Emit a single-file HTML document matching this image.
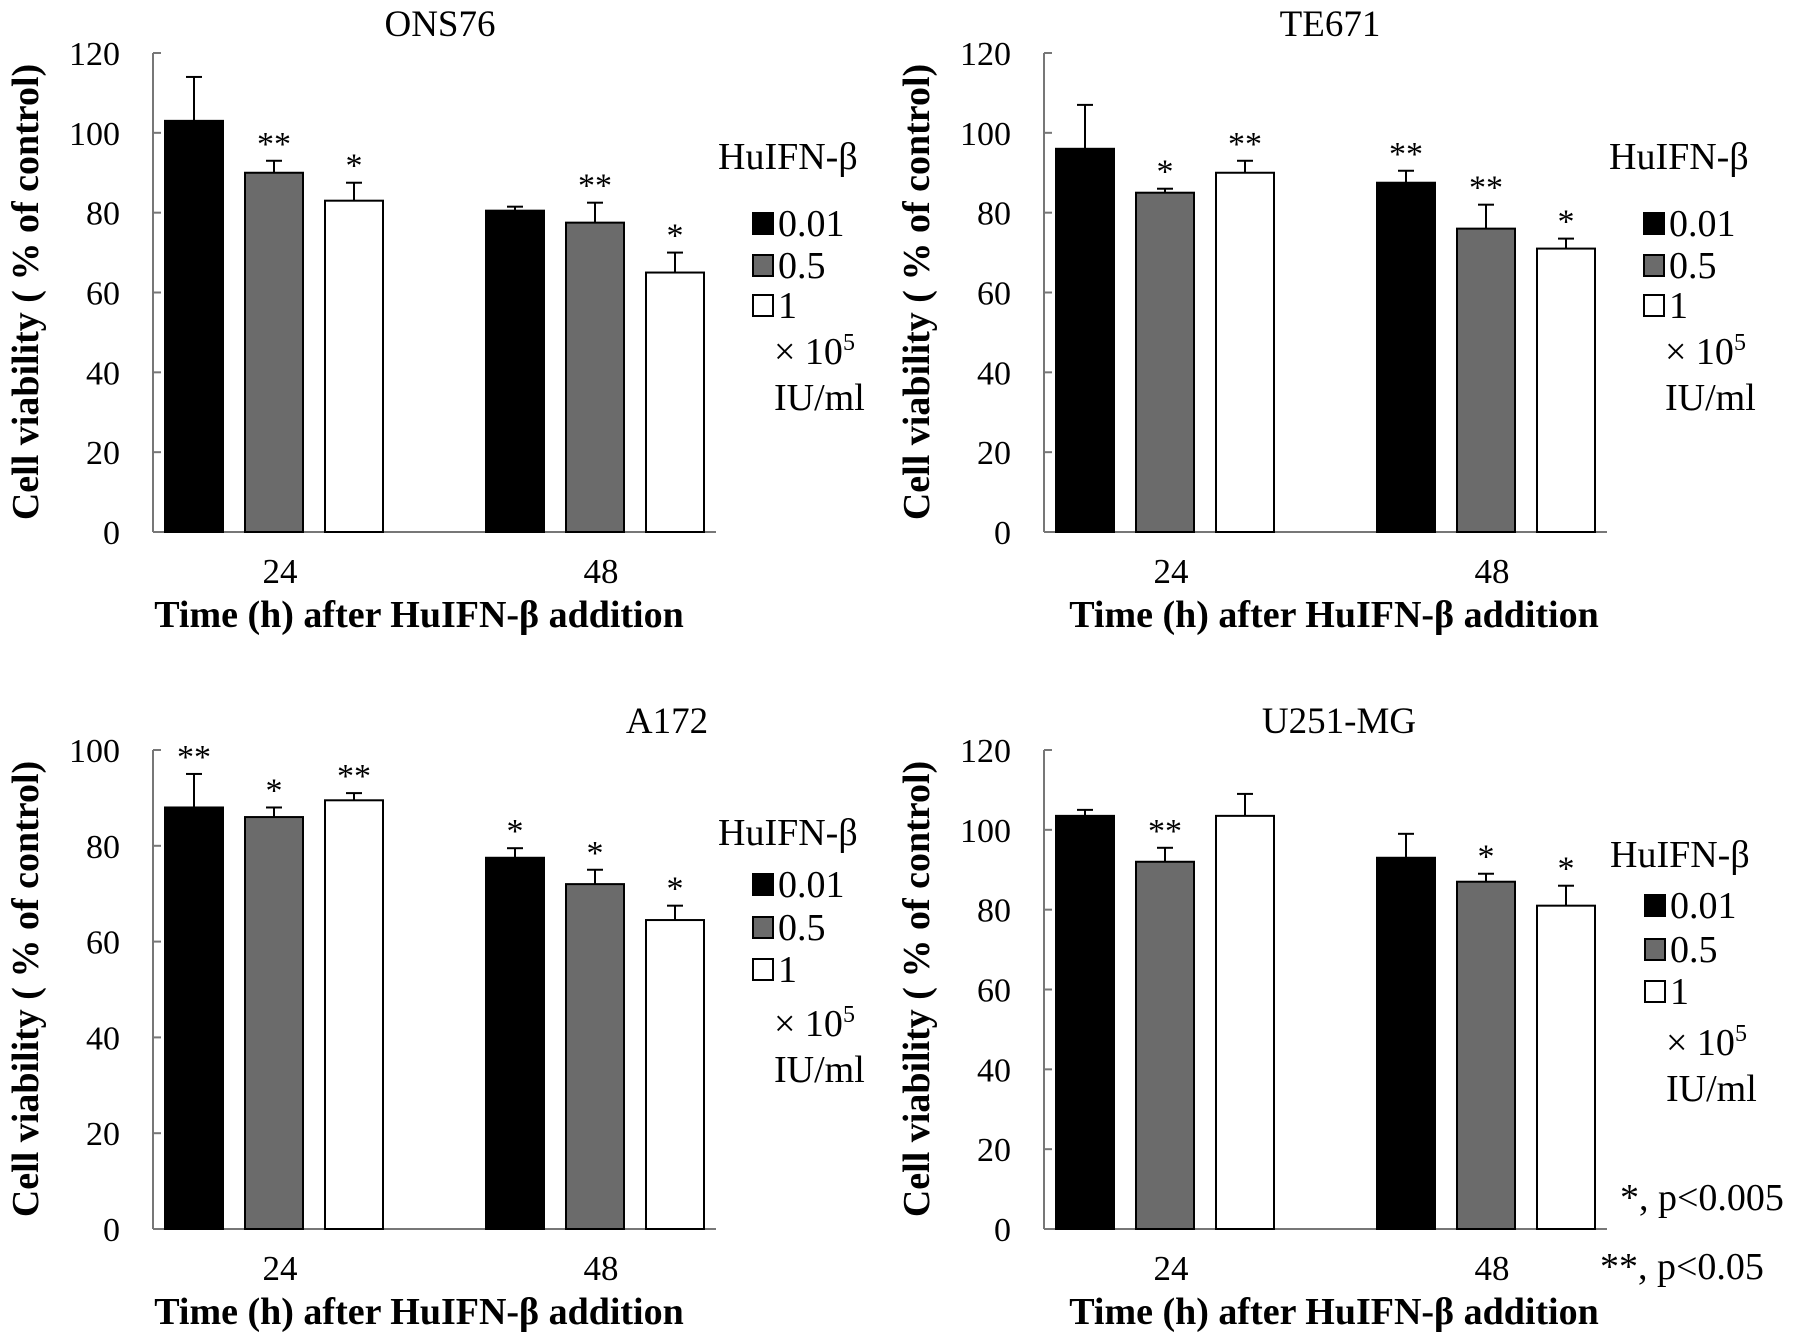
<!DOCTYPE html>
<html><head><meta charset="utf-8">
<style>
html,body{margin:0;padding:0;background:#fff;}
svg{display:block;font-family:"Liberation Serif",serif;}
</style></head>
<body>
<svg id="fig" width="1795" height="1343" viewBox="0 0 1795 1343"></svg>
<script>
const panelNames = ["ONS76","TE671","A172","U251-MG"];
const categories = ["24","48"];
const doses = ["0.01","0.5","1"];
const yMaxes = [120,120,100,120];
const yTickLabels0 = ["0","20","40","60","80","100","120"];
const yTickLabels2 = ["0","20","40","60","80","100"];
const ons76Values = [[103,90,83],[80.5,77.5,65]];
const ons76Errors = [[11,3,4.5],[1,5,5]];
const ons76Stars = [["","**","*"],["","**","*"]];
const te671Values = [[96,85,90],[87.5,76,71]];
const te671Errors = [[11,1,3],[3,6,2.5]];
const te671Stars = [["","*","**"],["**","**","*"]];
const a172Values = [[88,86,89.5],[77.5,72,64.5]];
const a172Errors = [[7,2,1.5],[2,3,3]];
const a172Stars = [["**","*","**"],["*","*","*"]];
const u251Values = [[103.5,92,103.5],[93,87,81]];
const u251Errors = [[1.5,3.5,5.5],[6,2,5]];
const u251Stars = [["","**",""],["","*","*"]];

const NS="http://www.w3.org/2000/svg";
const svg=document.getElementById('fig');
function mk(tag,attrs,parent,text){const e=document.createElementNS(NS,tag);for(const k in attrs)e.setAttribute(k,attrs[k]);if(text!==undefined)e.textContent=text;(parent||svg).appendChild(e);return e;}
const fills=["#000","#6b6b6b","#fff"];

const panels=[
 {ox:0,oy:0,xtx:419,vals:ons76Values,errs:ons76Errors,stars:ons76Stars,ticks:yTickLabels0,titleX:440,leg:{x:718,b:[169,236,278,318,364,410]}},
 {ox:891,oy:0,xtx:1334,vals:te671Values,errs:te671Errors,stars:te671Stars,ticks:yTickLabels0,titleX:1330,leg:{x:1609,b:[169,236,278,318,364,410]}},
 {ox:0,oy:697,xtx:419,vals:a172Values,errs:a172Errors,stars:a172Stars,ticks:yTickLabels2,titleX:667,leg:{x:718,b:[845,897,940,982,1036,1082]}},
 {ox:891,oy:697,xtx:1334,vals:u251Values,errs:u251Errors,stars:u251Stars,ticks:yTickLabels0,titleX:1339,leg:{x:1610,b:[867,918,962,1004,1055,1101]}}
];
const barX0=[165,486], barStep=80, barW=58;

panels.forEach((p,pi)=>{
 const g=mk('g',{});
 
 
 const ax=153+p.ox, yTop=53+p.oy, y0=532+p.oy, ymax=yMaxes[pi];
 const ys=v=>y0-(v/ymax)*(y0-yTop);
 const t=mk('text',{x:p.titleX,y:36+p.oy,'text-anchor':'middle','font-size':37},g,panelNames[pi]);
 
 const ya=mk('line',{x1:ax,y1:yTop,x2:ax,y2:y0,stroke:'#777','stroke-width':2},g);
 
 const xa=mk('line',{x1:ax,y1:y0,x2:716+p.ox,y2:y0,stroke:'#777','stroke-width':2},g);
 
 p.ticks.forEach(lbl=>{
  const v=+lbl, y=ys(v);
  mk('line',{x1:ax,y1:y,x2:ax+8,y2:y,stroke:'#777','stroke-width':2},g);
  const tl=mk('text',{x:ax-33,y:y+12,'text-anchor':'end','font-size':34},g,lbl);
  
 });
 const yt=mk('text',{transform:`translate(${38+p.ox},${292+p.oy}) rotate(-90)`,'text-anchor':'middle','font-size':38,'font-weight':'bold'},g,'Cell viability ( % of control)');
 
 categories.forEach((c,ci)=>{
  const cx=barX0[ci]+p.ox+barStep+barW/2+6;
  const cl=mk('text',{x:cx,y:583+p.oy,'text-anchor':'middle','font-size':35},g,c);
  
  doses.forEach((d,di)=>{
   const v=p.vals[ci][di], e=p.errs[ci][di];
   const x=barX0[ci]+p.ox+di*barStep, bx=x+barW/2;
   const el=mk('line',{x1:bx,y1:ys(v),x2:bx,y2:ys(v+e),stroke:'#000','stroke-width':2},g);
   
   mk('line',{x1:bx-8,y1:ys(v+e),x2:bx+8,y2:ys(v+e),stroke:'#000','stroke-width':2},g);
   const r=mk('rect',{x:x,y:ys(v),width:barW,height:y0-ys(v),fill:fills[di],stroke:'#000','stroke-width':2},g);
   
   const s=p.stars[ci][di];
   if(s){const st=mk('text',{x:bx,y:ys(v+e)-6,'text-anchor':'middle','font-size':34},g,s);
    }
  });
 });
 const xt=mk('text',{x:p.xtx,y:627+p.oy,'text-anchor':'middle','font-size':38,'font-weight':'bold'},g,'Time (h) after HuIFN-β addition');
 
 const L=p.leg;
 const lt=mk('text',{x:L.x,y:L.b[0],'font-size':38},g,'HuIFN-β');
 
 doses.forEach((d,di)=>{
  const b=L.b[1+di];
  const sw=mk('rect',{x:L.x+35,y:b-23,width:20,height:21,fill:fills[di],stroke:'#000','stroke-width':2},g);
  
  const le=mk('text',{x:L.x+60,y:b,'font-size':38},g,d);
  
 });
 const u1=mk('text',{x:L.x+56,y:L.b[4],'font-size':38},g);
 
 u1.innerHTML='× 10<tspan dy="-14" font-size="24">5</tspan>';
 const u2=mk('text',{x:L.x+56,y:L.b[5],'font-size':38},g,'IU/ml');
 
});
const f1=mk('text',{x:1620,y:1210,'font-size':38},svg,'*, p<0.005');

const f2=mk('text',{x:1600,y:1279,'font-size':38},svg,'**, p<0.05');

</script>
</body></html>
